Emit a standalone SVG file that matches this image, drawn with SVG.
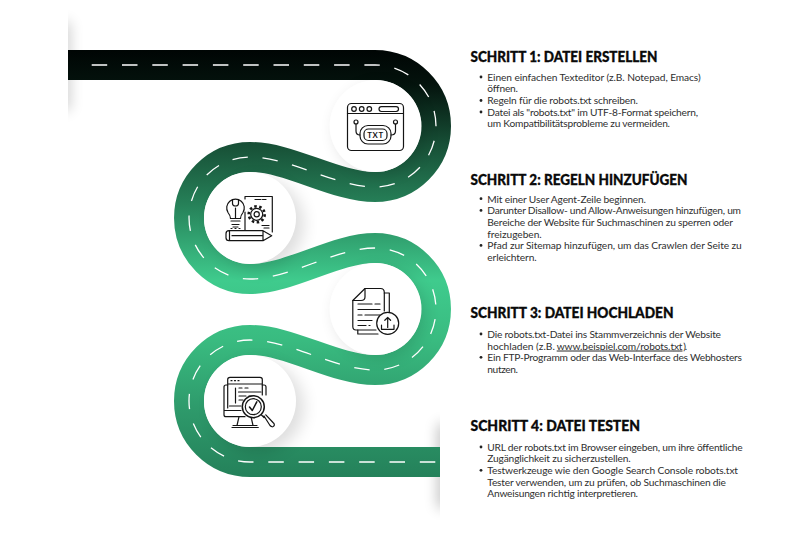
<svg xmlns="http://www.w3.org/2000/svg" width="800" height="545" viewBox="0 0 800 545">
<style>
.h{font-family:"Lato","Liberation Sans",sans-serif;font-weight:900;font-size:14.2px;fill:#0a0a0a;stroke:#0a0a0a;stroke-width:.3px}
.b{font-family:"Lato","Liberation Sans",sans-serif;font-size:10.2px;fill:#2f2f2f}
.i{fill:none;stroke:#141414;stroke-width:1.2;stroke-linecap:round;stroke-linejoin:round}
.disc{fill:#fff}
.sh{fill:#000;opacity:.13;filter:url(#bl)}
.bu{fill:#222}
</style>
<defs>
<linearGradient id="rg" gradientUnits="userSpaceOnUse" x1="0" y1="50" x2="0" y2="477">
<stop offset="0" stop-color="#000504"/>
<stop offset=".08" stop-color="#04130d"/>
<stop offset=".22" stop-color="#174f36"/>
<stop offset=".36" stop-color="#268058"/>
<stop offset=".54" stop-color="#3fcb8d"/>
<stop offset=".68" stop-color="#39bb80"/>
<stop offset=".84" stop-color="#2e9a6b"/>
<stop offset="1" stop-color="#24815a"/>
</linearGradient>
<filter id="bl" x="-40%" y="-40%" width="180%" height="180%"><feGaussianBlur stdDeviation="8"/></filter>
<filter id="bl2" x="-300%" y="-40%" width="700%" height="180%"><feGaussianBlur stdDeviation="7"/></filter>
<clipPath id="cl"><rect x="68" y="0" width="40" height="140"/></clipPath>
<clipPath id="cr"><rect x="400" y="400" width="40" height="145"/></clipPath>
</defs>
<rect width="800" height="545" fill="#fff"/>
<g id="edge-shadows">
<g clip-path="url(#cl)"><rect x="58" y="22" width="12" height="88" fill="#000" opacity=".2" filter="url(#bl2)"/></g>
<g clip-path="url(#cr)"><rect x="438" y="424" width="12" height="84" fill="#000" opacity=".26" filter="url(#bl2)"/></g>
</g>
<g id="connectors">
<path id="road" d="M68 65H375A61 61 0 0 1 375 187C335 187 290 157 250 157A61 61 0 0 0 250 279C290 279 335 248 375 248A61 61 0 0 1 375 370C335 370 290 340 250 340A61 61 0 0 0 250 462H440" fill="none" stroke="url(#rg)" stroke-width="30"/>
<path id="lane" d="M91.700 65H375A61 61 0 0 1 375 187C335 187 290 157 250 157A61 61 0 0 0 250 279C290 279 335 248 375 248A61 61 0 0 1 375 370C335 370 290 340 250 340A61 61 0 0 0 250 462H440" fill="none" stroke="#fff" stroke-width="1.300" stroke-dasharray="15.500 14.800"/>
</g>
<g id="node-1">
<circle class="sh" cx="380" cy="130" r="45"/><circle class="disc" cx="375.500" cy="126" r="46"/>
<rect class="i" x="347.500" y="103.500" width="56" height="47" rx="4"/>
<path class="i" d="M347.500 113.500H403.500"/>
<circle class="i" cx="354" cy="109" r="2.300"/><circle class="i" cx="361.700" cy="109" r="2.300"/><circle class="i" cx="369.300" cy="109" r="2.300"/>
<rect class="i" x="379" y="106.700" width="19.500" height="4.800" rx="2.400"/>
<circle class="i" cx="356" cy="122" r="2"/><circle class="i" cx="395.500" cy="122" r="2"/>
<path class="i" d="M356 124V131Q356 135 360 135M395.500 124V131Q395.500 135 391 135"/>
<rect class="i" x="360" y="125.500" width="31" height="18.500" rx="8"/>
<rect class="i" x="364" y="129" width="23" height="11.500" rx="4.500"/>
<text x="375.500" y="137.500" text-anchor="middle" font-family="Lato,'Liberation Sans',sans-serif" font-weight="700" font-size="7.800" letter-spacing=".6" fill="#141414">TXT</text>
</g>
<g id="node-2">
<circle class="sh" cx="258" cy="224" r="46"/><circle class="disc" cx="250" cy="218" r="46"/>
<path class="i" d="M245 199V196.500H272.300V232"/>
<path class="i" d="M245 212V230.500"/>
<path class="i" d="M228 212.500A8.800 8.800 0 1 1 243 212.500C241 215 240.500 216 240.500 218.500H230.500C230.500 216 230 215 228 212.500Z"/>
<path class="i" d="M231 221H240M232 224.500H239M233 227H238M235.500 218V208M232.500 200V203.500Q232.500 206 235.500 206Q238.500 206 238.500 203.500V200"/>
<path class="i" d="M231 228.500H232M235 228.500H236M239 228.500H240" stroke-width="1"/>
<circle class="i" cx="256.700" cy="214.300" r="6"/><circle class="i" cx="256.700" cy="214.300" r="2.600"/>
<circle cx="256.700" cy="214.300" r="8" fill="none" stroke="#141414" stroke-width="2.600" stroke-dasharray="2.500 2.500"/>
<path class="i" d="M255 199.500H261M262.500 199.500H266M262 225.500H269M264 228H269"/>
<path class="i" d="M229 230.700H263L271.700 235.700L263 240.700H229Q226 240.700 226 237.700V233.700Q226 230.700 229 230.700ZM229.500 231V240.500M232 235.700H262M263 230.700V240.700"/>
</g>
<g id="node-3">
<circle class="sh" cx="380" cy="313" r="45"/><circle class="disc" cx="375.500" cy="309" r="46"/>
<path class="i" d="M384.300 292.500V311M384.300 292.500Q384.300 288.500 380.500 288.500H365L352.800 300.500V326.500Q352.800 330 356 330H376"/>
<path class="i" d="M365 288.500V297Q365 300.500 361 300.500H352.800"/>
<path class="i" d="M384.300 293H389.300V312.500M357.800 330V334H378"/>
<path class="i" d="M358 304H372M375 304H380M358 309.500H380M358 315H362M365 315H380M358 320.500H372M358 325.500H366M369 325.500H370"/>
<circle class="disc" cx="387.700" cy="323.300" r="11"/><circle class="i" cx="387.700" cy="323.300" r="11"/>
<path class="i" d="M387.700 327.500V317.500M384.800 320.300L387.700 317.500L390.600 320.300M381.500 325V329.300H394V325"/>
</g>
<g id="node-4">
<circle class="sh" cx="258" cy="407" r="46"/><circle class="disc" cx="250" cy="401" r="46"/>
<path class="i" d="M227.700 385H226Q224 385 224 387V414.700Q224 416.700 226 416.700H245M262.300 385H264Q266 385 266 387V395M224 410.500H241"/>
<path class="i" d="M227.700 408V379.500Q227.700 377.300 230 377.300H260Q262.300 377.300 262.300 379.500V395M227.700 384H262.300M229.500 406H241"/>
<path class="i" d="M231 380.700H232M234.500 380.700H235.500M238 380.700H239M235.500 388V403M239 388H242M245 388H248M238.500 392H261M239 396H246M249 396H252M239 400H243"/>
<path class="i" d="M239 416.700L237 425.500M251 416.700L253 425.500M232 427.500H258.300M233 425.500H257"/>
<circle class="disc" cx="253.300" cy="406.700" r="11.500"/><circle cx="253.300" cy="406.700" r="11" fill="none" stroke="#141414" stroke-width="1.500"/><circle class="i" cx="253.300" cy="406.700" r="8"/>
<path d="M249.500 407L252.300 410.500L256.800 401.800" fill="none" stroke="#141414" stroke-width="1.500" stroke-linecap="round" stroke-linejoin="round"/>
<path class="i" d="M261.500 415L264 417.500M264 416L270 425.500Q272.500 427.800 273.800 426Q275.200 424.500 273 422.500L265.800 414.800"/>
</g>
<g id="step-1">
<text class="h" x="470.500" y="62" textLength="187" lengthAdjust="spacingAndGlyphs">SCHRITT 1: DATEI ERSTELLEN</text>
<circle class="bu" cx="481" cy="77" r="1.400"/><circle class="bu" cx="481" cy="100.500" r="1.400"/><circle class="bu" cx="481" cy="112" r="1.400"/>
<text class="b" x="487.300" y="80.500" textLength="213.400">Einen einfachen Texteditor (z.B. Notepad, Emacs)</text>
<text class="b" x="487.300" y="92.200" textLength="30.700">öffnen.</text>
<text class="b" x="487.300" y="103.900" textLength="150.700">Regeln für die robots.txt schreiben.</text>
<text class="b" x="487.300" y="115.500" textLength="210.700">Datei als "robots.txt" im UTF-8-Format speichern,</text>
<text class="b" x="487.300" y="127.200" textLength="182.700">um Kompatibilitätsprobleme zu vermeiden.</text>
</g>
<g id="step-2">
<text class="h" x="470.500" y="185" textLength="217" lengthAdjust="spacingAndGlyphs">SCHRITT 2: REGELN HINZUFÜGEN</text>
<circle class="bu" cx="481" cy="198.700" r="1.400"/><circle class="bu" cx="481" cy="210.400" r="1.400"/><circle class="bu" cx="481" cy="245.400" r="1.400"/>
<text class="b" x="487.300" y="202.500" textLength="158.700">Mit einer User Agent-Zeile beginnen.</text>
<text class="b" x="487.300" y="214.200" textLength="253.700">Darunter Disallow- und Allow-Anweisungen hinzufügen, um</text>
<text class="b" x="487.300" y="225.800" textLength="245.700">Bereiche der Website für Suchmaschinen zu sperren oder</text>
<text class="b" x="487.300" y="237.500" textLength="54.400">freizugeben.</text>
<text class="b" x="487.300" y="249.200" textLength="254.400">Pfad zur Sitemap hinzufügen, um das Crawlen der Seite zu</text>
<text class="b" x="487.300" y="260.800" textLength="49.400">erleichtern.</text>
</g>
<g id="step-3">
<text class="h" x="470.500" y="318" textLength="203" lengthAdjust="spacingAndGlyphs">SCHRITT 3: DATEI HOCHLADEN</text>
<circle class="bu" cx="481" cy="334" r="1.400"/><circle class="bu" cx="481" cy="357.300" r="1.400"/>
<text class="b" x="487.300" y="337.800" textLength="233.700">Die robots.txt-Datei ins Stammverzeichnis der Website</text>
<text class="b" x="487.300" y="349.500" textLength="67.500">hochladen (z.B.</text>
<text class="b" x="556.700" y="349.500" textLength="125.800" text-decoration="underline">www.beispiel.com/robots.txt</text>
<text class="b" x="683.200" y="349.500" textLength="4">).</text>
<text class="b" x="487.300" y="361.100" textLength="254.700">Ein FTP-Programm oder das Web-Interface des Webhosters</text>
<text class="b" x="487.300" y="372.800" textLength="30.700">nutzen.</text>
</g>
<g id="step-4">
<text class="h" x="470.500" y="431" textLength="169.500" lengthAdjust="spacingAndGlyphs">SCHRITT 4: DATEI TESTEN</text>
<circle class="bu" cx="481" cy="447" r="1.400"/><circle class="bu" cx="481" cy="470.300" r="1.400"/>
<text class="b" x="487.300" y="450.800" textLength="255.400">URL der robots.txt im Browser eingeben, um ihre öffentliche</text>
<text class="b" x="487.300" y="462.400" textLength="143.400">Zugänglichkeit zu sicherzustellen.</text>
<text class="b" x="487.300" y="474.100" textLength="250.700">Testwerkzeuge wie den Google Search Console robots.txt</text>
<text class="b" x="487.300" y="485.800" textLength="238.700">Tester verwenden, um zu prüfen, ob Suchmaschinen die</text>
<text class="b" x="487.300" y="497.400" textLength="150.700">Anweisungen richtig interpretieren.</text>
</g>
</svg>
